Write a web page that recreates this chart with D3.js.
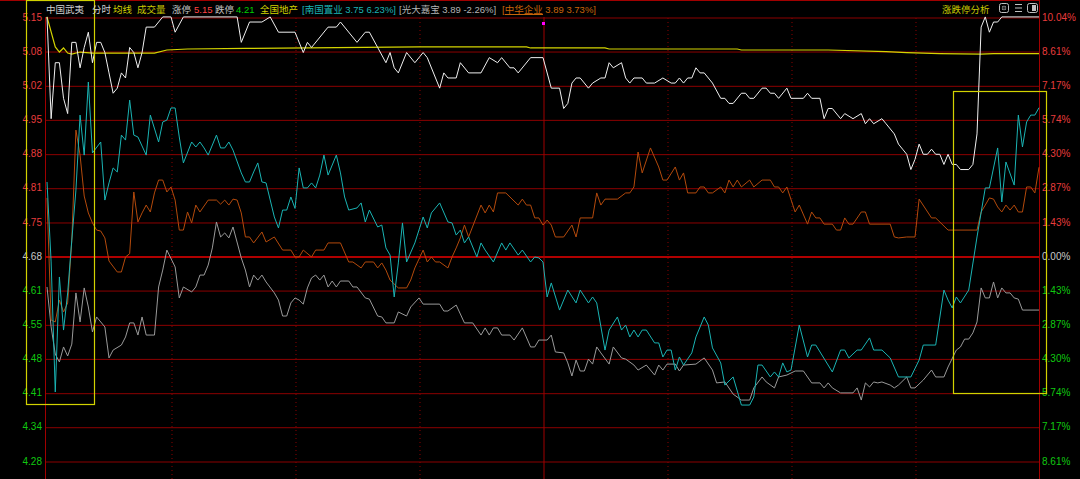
<!DOCTYPE html>
<html><head><meta charset="utf-8">
<script src="https://cdn.jsdelivr.net/npm/d3@7"></script>
<style>
html,body{margin:0;padding:0;background:#000;overflow:hidden;}
svg{display:block;}
</style></head><body>
<svg id="chart" width="1080" height="479"></svg>
<script>
// ---------- data ----------
const stockName = "中国武夷";
const prevClose = 4.68;
const limitUp = "5.15", limitDown = "4.21";
const sectorName = "全国地产";
const compNames = ["南国置业", "光大嘉宝", "中华企业"];
const compClose = ["3.75", "3.89", "3.89"];
const compPctText = ["6.23%", "-2.26%", "3.73%"];

const pctTicks = [10.04, 8.61, 7.17, 5.74, 4.30, 2.87, 1.43, 0, -1.43, -2.87, -4.30, -5.74, -7.17, -8.61];
const priceLabels = ["5.15","5.08","5.02","4.95","4.88","4.81","4.75","4.68","4.61","4.55","4.48","4.41","4.34","4.28"];
const pctLabels = ["10.04%","8.61%","7.17%","5.74%","4.30%","2.87%","1.43%","0.00%","1.43%","2.87%","4.30%","5.74%","7.17%","8.61%"];
const halfHourTicks = [30, 60, 90, 120, 150, 180, 210]; // minutes after open

// [minute, price]
const wuyiPrice = [[0,5.15],[1,4.95],[2,5.06],[3,5.06],[4,4.99],[5,4.96],[6,5.10],[7,5.10],[8,5.05],[9,5.09],[10,5.12],[11,5.06],[12,5.10],[13,5.10],[14,5.08],[15,5.04],[16,5.00],[17,5.01],[18,5.04],[19,5.03],[20,5.09],[21,5.08],[22,5.05],[23,5.08],[24,5.13],[26,5.13],[28,5.15],[30,5.15],[31,5.12],[33,5.15],[46,5.15],[47,5.10],[49,5.14],[52,5.14],[54,5.15],[56,5.12],[60,5.12],[62,5.08],[63,5.10],[64,5.09],[68,5.13],[70,5.13],[71,5.14],[75,5.10],[77,5.12],[78,5.12],[80,5.09],[82,5.06],[83,5.08],[84,5.05],[85,5.04],[87,5.08],[89,5.06],[91,5.08],[92,5.07],[95,5.01],[96,5.04],[97,5.03],[99,5.03],[100,5.06],[102,5.04],[105,5.04],[107,5.07],[109,5.06],[110,5.07],[112,5.05],[113,5.05],[114,5.04],[117,5.07],[120,5.07],[122,5.01],[124,5.01],[125,4.97],[126,4.98],[127,5.02],[128,5.03],[129,5.03],[131,5.01],[132,5.02],[134,5.03],[135,5.03],[136,5.06],[137,5.05],[139,5.06],[140,5.03],[141,5.02],[142,5.03],[144,5.03],[145,5.02],[147,5.02],[149,5.03],[151,5.02],[152,5.02],[153,5.03],[154,5.02],[155,5.03],[156,5.03],[157,5.05],[158,5.04],[159,5.04],[161,5.02],[163,4.99],[164,4.99],[165,4.98],[166,4.98],[168,5.00],[169,5.00],[170,4.99],[171,4.99],[173,5.01],[174,5.01],[175,5.00],[176,5.00],[177,4.99],[179,5.01],[180,4.99],[183,4.99],[184,5.00],[185,4.99],[187,4.99],[188,4.95],[189,4.97],[190,4.97],[192,4.95],[193,4.96],[195,4.95],[197,4.96],[198,4.94],[199,4.95],[200,4.94],[202,4.95],[203,4.94],[205,4.92],[206,4.90],[207,4.89],[208,4.88],[209,4.85],[210,4.87],[211,4.90],[212,4.88],[213,4.88],[214,4.89],[215,4.88],[216,4.88],[217,4.86],[218,4.88],[219,4.86],[220,4.86],[221,4.85],[223,4.85],[224,4.86],[225,4.92],[226,5.13],[227,5.15],[228,5.12],[229,5.14],[230,5.14],[231,5.15],[240,5.15]];

// [minute, average price]
const wuyiAvg = [[0,5.150],[2,5.091],[3,5.081],[4,5.089],[5,5.079],[6,5.077],[8,5.081],[11,5.079],[26,5.079],[29,5.085],[34,5.087],[48,5.088],[90,5.091],[116,5.091],[117,5.089],[135,5.089],[136,5.087],[167,5.087],[168,5.085],[189,5.085],[203,5.082],[208,5.080],[216,5.078],[226,5.077],[229,5.078],[240,5.078]];

// [minute, % change]
const nanguoPct = [[0,3.11],[1,-0.25],[2,-5.71],[3,-0.88],[4,-3.11],[5,-1.55],[6,0.67],[7,2.77],[8,5.92],[9,4.24],[10,7.31],[11,4.33],[13,4.79],[14,2.35],[15,3.07],[16,3.70],[17,3.53],[18,5.08],[19,4.87],[20,6.55],[21,5.08],[22,5.00],[24,4.24],[25,5.92],[27,4.79],[28,5.63],[29,5.71],[30,6.22],[31,6.22],[32,5.00],[33,3.91],[35,4.79],[36,4.58],[37,4.79],[38,4.54],[39,4.24],[41,5.08],[42,4.54],[43,4.54],[44,4.79],[45,4.45],[47,3.49],[48,3.11],[49,3.11],[50,3.53],[51,3.91],[52,3.11],[53,3.07],[55,1.64],[56,1.18],[57,1.93],[58,1.93],[59,2.48],[60,2.00],[61,3.70],[62,2.86],[63,2.86],[64,3.07],[65,2.86],[66,3.40],[67,4.24],[68,3.40],[70,4.24],[71,3.49],[72,2.48],[73,1.93],[75,2.02],[76,2.23],[77,1.43],[78,1.93],[80,1.22],[81,1.30],[82,0.34],[83,0.04],[84,-1.72],[85,-0.29],[86,1.39],[87,-0.25],[89,0.55],[91,1.64],[92,1.18],[93,1.81],[95,2.23],[97,1.43],[98,1.39],[99,0.88],[100,1.09],[101,0.55],[102,0.80],[104,-0.04],[105,0.55],[106,0.25],[108,-0.25],[110,0.55],[111,0.25],[112,0.55],[114,0.04],[115,0.25],[117,-0.25],[118,-0.04],[119,-0.08],[120,-0.25],[121,-1.72],[122,-1.13],[124,-2.27],[126,-1.43],[128,-1.97],[129,-1.43],[131,-1.97],[132,-1.72],[133,-1.97],[135,-3.95],[136,-3.11],[138,-2.56],[139,-3.11],[140,-2.90],[141,-3.40],[142,-3.11],[143,-3.40],[144,-3.11],[145,-3.11],[147,-3.65],[148,-3.65],[149,-4.24],[150,-3.95],[151,-3.95],[152,-4.79],[153,-4.24],[154,-4.58],[156,-4.07],[157,-3.40],[159,-2.56],[160,-2.90],[161,-3.86],[163,-4.49],[164,-5.42],[166,-5.08],[168,-6.26],[170,-6.26],[171,-5.92],[172,-4.58],[173,-4.58],[175,-5.08],[176,-4.87],[177,-5.08],[178,-4.49],[179,-4.87],[180,-4.79],[182,-2.90],[184,-4.24],[185,-3.74],[186,-3.74],[190,-4.87],[192,-3.95],[193,-3.95],[194,-4.28],[196,-3.95],[197,-3.95],[199,-3.44],[200,-3.95],[202,-3.95],[204,-4.28],[206,-5.08],[209,-5.08],[211,-4.37],[212,-3.74],[215,-3.74],[217,-1.43],[218,-1.85],[219,-2.18],[220,-1.72],[221,-1.97],[223,-1.43],[225,0.80],[227,2.86],[228,2.86],[230,4.54],[231,2.27],[232,3.95],[234,2.98],[235,5.92],[236,4.58],[237,5.63],[238,5.92],[239,5.92],[240,6.23]];

const guangdaPct = [[0,-1.30],[1,-2.98],[2,-4.12],[3,-4.45],[4,-3.82],[5,-4.20],[6,-3.70],[7,-1.55],[8,-2.77],[9,-1.34],[10,-2.14],[11,-3.19],[12,-2.56],[14,-2.98],[15,-4.28],[16,-3.95],[18,-3.74],[19,-3.40],[20,-2.81],[21,-2.81],[22,-3.32],[23,-2.56],[24,-3.32],[26,-3.32],[27,-1.30],[28,-0.59],[29,0.25],[31,-0.46],[32,-1.76],[33,-1.30],[35,-1.51],[36,-1.30],[37,-0.80],[38,-0.80],[39,-0.38],[40,0.34],[41,1.43],[42,0.80],[43,0.97],[44,0.76],[45,1.22],[47,-0.08],[48,-0.59],[49,-1.30],[50,-0.80],[51,-1.01],[52,-0.80],[53,-1.09],[55,-1.55],[56,-1.85],[57,-2.52],[58,-2.52],[59,-1.97],[60,-1.76],[61,-1.85],[62,-2.02],[63,-1.34],[64,-0.92],[65,-0.80],[66,-1.01],[67,-0.80],[68,-1.30],[69,-1.05],[70,-1.30],[71,-1.05],[73,-1.05],[74,-1.30],[75,-1.30],[77,-1.76],[78,-1.81],[80,-2.52],[81,-2.56],[82,-2.81],[84,-2.81],[85,-2.35],[87,-2.52],[88,-2.14],[90,-1.76],[91,-2.02],[95,-2.02],[96,-2.31],[97,-2.31],[99,-2.06],[101,-2.81],[103,-2.81],[105,-3.32],[106,-3.02],[107,-3.32],[108,-3.02],[109,-3.02],[110,-3.32],[112,-3.32],[113,-3.53],[115,-3.02],[117,-3.82],[118,-3.82],[119,-3.53],[121,-3.53],[122,-3.32],[123,-4.03],[125,-4.07],[126,-4.49],[127,-5.04],[128,-4.37],[129,-4.83],[130,-4.83],[131,-4.33],[132,-4.54],[133,-3.82],[134,-4.07],[136,-4.54],[137,-3.82],[139,-4.28],[140,-4.33],[142,-4.58],[143,-4.79],[145,-4.58],[147,-5.00],[148,-4.58],[149,-4.79],[150,-4.54],[152,-4.54],[153,-4.83],[154,-4.58],[157,-4.54],[159,-4.28],[161,-4.79],[162,-5.33],[164,-5.29],[166,-5.80],[168,-6.05],[170,-6.05],[171,-5.54],[173,-5.08],[174,-5.29],[176,-5.54],[177,-5.08],[179,-5.00],[181,-4.83],[183,-4.83],[185,-5.33],[187,-5.33],[188,-5.54],[189,-5.33],[190,-5.54],[192,-5.75],[195,-5.75],[196,-5.54],[197,-6.05],[198,-5.33],[199,-5.50],[200,-5.29],[201,-5.33],[202,-5.29],[204,-5.42],[205,-5.54],[206,-5.42],[208,-5.08],[209,-5.54],[210,-5.54],[212,-5.21],[214,-4.79],[215,-5.08],[217,-5.08],[218,-4.66],[220,-3.95],[221,-3.82],[222,-3.49],[223,-3.49],[224,-3.23],[225,-2.77],[226,-1.34],[227,-1.76],[228,-1.76],[229,-1.09],[230,-1.76],[231,-1.34],[232,-1.55],[233,-1.55],[234,-1.76],[235,-1.81],[236,-2.27],[240,-2.27]];

const zhonghuaPct = [[0,2.44],[1,-2.69],[2,-2.77],[3,-1.85],[4,-2.35],[5,-1.97],[6,0.67],[7,5.29],[8,4.24],[9,2.52],[10,1.81],[11,1.39],[12,1.09],[13,1.05],[14,0.76],[15,-0.21],[17,-0.67],[18,-0.67],[19,-0.04],[20,0.10],[21,2.69],[22,1.43],[23,1.81],[24,2.14],[25,1.85],[26,2.65],[27,3.19],[28,3.19],[29,2.69],[30,2.90],[31,2.35],[32,1.09],[33,1.09],[34,1.85],[35,1.39],[36,2.14],[37,1.85],[39,2.35],[41,2.35],[42,2.18],[43,2.35],[44,2.14],[45,2.39],[46,2.35],[47,1.81],[48,0.80],[49,0.80],[50,0.55],[52,1.01],[53,0.59],[55,0.80],[57,0.25],[59,0.25],[60,-0.04],[61,-0.04],[62,0.25],[64,-0.04],[65,0.25],[67,0.25],[68,0.55],[71,0.55],[73,-0.25],[74,-0.25],[76,-0.50],[77,-0.25],[79,-0.25],[80,-0.50],[81,-0.29],[82,-0.59],[83,-1.01],[85,-1.34],[87,-1.34],[88,-1.01],[89,-0.50],[91,0.25],[92,-0.25],[93,-0.04],[94,-0.25],[95,-0.25],[97,-0.50],[98,-0.04],[99,0.34],[100,0.76],[101,1.30],[102,0.80],[105,2.14],[106,1.81],[107,2.14],[108,1.85],[109,2.65],[111,2.65],[114,2.14],[115,2.39],[116,2.14],[117,2.14],[118,1.60],[119,1.60],[120,1.30],[121,1.51],[122,1.30],[123,0.80],[125,0.80],[127,1.30],[128,0.80],[129,1.60],[132,1.60],[133,2.65],[134,2.14],[135,2.39],[138,2.39],[140,2.65],[141,2.65],[142,2.90],[143,4.37],[144,3.49],[146,4.54],[148,3.74],[149,3.19],[150,3.19],[152,3.74],[153,3.19],[154,3.49],[155,2.65],[157,2.65],[158,2.90],[159,2.90],[160,2.65],[161,2.65],[163,2.90],[164,2.65],[165,3.19],[166,2.90],[167,3.19],[168,2.90],[170,3.19],[171,2.90],[173,3.19],[175,3.19],[176,2.90],[177,2.90],[178,2.65],[179,2.90],[181,1.85],[182,2.14],[184,1.34],[185,1.85],[186,1.60],[187,1.60],[188,1.34],[190,1.34],[191,1.09],[192,1.09],[193,1.60],[194,1.34],[195,1.34],[197,1.85],[198,1.85],[199,1.34],[204,1.34],[205,0.80],[206,0.76],[208,0.80],[210,0.80],[211,2.39],[214,1.60],[215,1.60],[218,1.09],[225,1.09],[226,1.85],[227,2.14],[228,2.44],[229,2.39],[230,2.06],[231,1.85],[232,2.14],[233,1.93],[234,2.14],[235,1.85],[236,1.85],[237,2.90],[238,2.90],[239,2.65],[240,3.73]];

// ---------- drawing ----------
const W = 1080, H = 479;
const L = 45, R = 1039, T = 17;
const svg = d3.select("#chart");
const FONT = "'Liberation Sans','Noto Sans CJK SC',sans-serif";
const BOX = "#d2d200";

svg.append("rect").attr("width", W).attr("height", H).attr("fill", "#000");

const x = d3.scaleLinear().domain([0, 240]).range([47, R]);
const yPct = d3.scaleLinear().domain([-8.61, 10.04]).range([461, 17]);
const yPrice = d3.scaleLinear().domain([prevClose * (1 - 0.0861), prevClose * (1 + 0.1004)]).range([461, 17]);

// top border
svg.append("line").attr("x1", 0).attr("x2", R).attr("y1", 0.5).attr("y2", 0.5).attr("stroke", "#a00000");

// horizontal grid
const gGrid = svg.append("g").attr("transform", `translate(${L},0.5)`)
  .call(d3.axisRight(yPct).tickValues(pctTicks).tickSize(R - L).tickFormat(""));
gGrid.select(".domain").remove();
gGrid.selectAll(".tick line")
  .attr("stroke", d => d === 0 ? "#b00000" : "#8c0000")
  .attr("stroke-width", d => d === 0 ? 2 : 1);

// vertical half-hour lines
const gTime = svg.append("g").attr("transform", `translate(0.5,${H})`)
  .call(d3.axisTop(x).tickValues(halfHourTicks).tickSize(H - T).tickFormat(""));
gTime.select(".domain").remove();
gTime.selectAll(".tick line")
  .attr("stroke", d => d === 120 ? "#a00000" : "#8c0000")
  .attr("stroke-dasharray", d => d === 120 ? null : "1,3");

// frame verticals
svg.append("line").attr("x1", L + 0.5).attr("x2", L + 0.5).attr("y1", T).attr("y2", H).attr("stroke", "#a00000");
svg.append("line").attr("x1", R + 0.5).attr("x2", R + 0.5).attr("y1", 0).attr("y2", H).attr("stroke", "#a00000");

// left price labels
const gLeft = svg.append("g").attr("transform", `translate(${L - 3},0)`)
  .call(d3.axisLeft(yPct).tickValues(pctTicks).tickSize(0).tickPadding(0)
    .tickFormat((d, i) => priceLabels[i]));
gLeft.select(".domain").remove();
gLeft.selectAll("text").attr("font-family", FONT).attr("font-size", 10)
  .attr("fill", d => d > 0 ? "#e83c3c" : (d < 0 ? "#10c810" : "#c8c8c8"));

// right pct labels
const gRight = svg.append("g").attr("transform", `translate(${R + 3},0)`)
  .call(d3.axisRight(yPct).tickValues(pctTicks).tickSize(0).tickPadding(0)
    .tickFormat((d, i) => pctLabels[i]));
gRight.select(".domain").remove();
gRight.selectAll("text").attr("font-family", FONT).attr("font-size", 10)
  .attr("fill", d => d > 0 ? "#e83c3c" : (d < 0 ? "#10c810" : "#c8c8c8"));

// series
const linePct = d3.line().x(d => x(d[0])).y(d => yPct(d[1]));
const linePrice = d3.line().x(d => x(d[0])).y(d => yPrice(d[1]));

const plot = svg.append("g");
plot.append("path").datum(guangdaPct).attr("d", linePct).attr("fill", "none").attr("stroke", "#9a9a9a").attr("stroke-width", 1);
plot.append("path").datum(zhonghuaPct).attr("d", linePct).attr("fill", "none").attr("stroke", "#b44a0c").attr("stroke-width", 1);
plot.append("path").datum(nanguoPct).attr("d", linePct).attr("fill", "none").attr("stroke", "#1ab4b4").attr("stroke-width", 1);
plot.append("path").datum(wuyiAvg).attr("d", linePrice).attr("fill", "none").attr("stroke", "#d4d400").attr("stroke-width", 1.2);
plot.append("path").datum(wuyiPrice).attr("d", linePrice).attr("fill", "none").attr("stroke", "#f0f0f0").attr("stroke-width", 1);

// cursor marker at midday
svg.append("rect").attr("x", x(120) - 1).attr("y", 22).attr("width", 3).attr("height", 3).attr("fill", "#ff00ff");

// highlight boxes
const boxes = svg.append("g").attr("fill", "none").attr("stroke", BOX).attr("stroke-width", 1.2);
boxes.append("rect").attr("x", 26.5).attr("y", 0.5).attr("width", 68).attr("height", 404);
boxes.append("rect").attr("x", 953.5).attr("y", 91.5).attr("width", 93).attr("height", 302);

// header
const hdr = svg.append("g").attr("font-family", FONT).attr("font-size", 9.5);
const hy = 12.5;
function ht(tx, str, col) { return hdr.append("text").attr("x", tx).attr("y", hy).attr("fill", col).text(str); }
ht(46, stockName, "#d0d0d0");
ht(92, "分时", "#d0d0d0");
ht(113, "均线", "#d2d200");
ht(137, "成交量", "#c8c800");
ht(172, "涨停", "#c0c0c0");
ht(194, limitUp, "#ff4444");
ht(215, "跌停", "#c0c0c0");
ht(236, limitDown, "#00d000");
ht(260, sectorName, "#d2d200");
ht(302, `[${compNames[0]} ${compClose[0]} ${compPctText[0]}]`, "#1cb4b4");
ht(399, `[${compNames[1]} ${compClose[1]} ${compPctText[1]}]`, "#b4b4b4");
ht(502, `[${compNames[2]} ${compClose[2]} ${compPctText[2]}]`, "#c8640a");
hdr.append("line").attr("x1", 505).attr("x2", 543).attr("y1", 14.5).attr("y2", 14.5).attr("stroke", "#c8640a");
ht(942, "涨跌停分析", "#c8c800");

// icons
const ic = svg.append("g").attr("fill", "none").attr("stroke", "#c0c0c0").attr("stroke-width", 1);
ic.append("rect").attr("x", 999.5).attr("y", 3.5).attr("width", 9).attr("height", 9).attr("rx", 2);
ic.append("circle").attr("cx", 1004).attr("cy", 8).attr("r", 2.2).attr("fill", "#c0c0c0").attr("stroke", "none");
ic.append("line").attr("x1", 1002).attr("x2", 1006).attr("y1", 8).attr("y2", 8).attr("stroke", "#000");
ic.append("line").attr("x1", 1004).attr("x2", 1004).attr("y1", 6).attr("y2", 10).attr("stroke", "#000");
[4.5, 8, 11.5].forEach(yy => ic.append("line").attr("x1", 1015).attr("x2", 1022).attr("y1", yy).attr("y2", yy));
ic.append("rect").attr("x", 1027.5).attr("y", 3.5).attr("width", 10).attr("height", 9).attr("rx", 2);
ic.append("rect").attr("x", 1032).attr("y", 5).attr("width", 4).attr("height", 6).attr("fill", "#c0c0c0").attr("stroke", "none");
</script>
</body></html>
